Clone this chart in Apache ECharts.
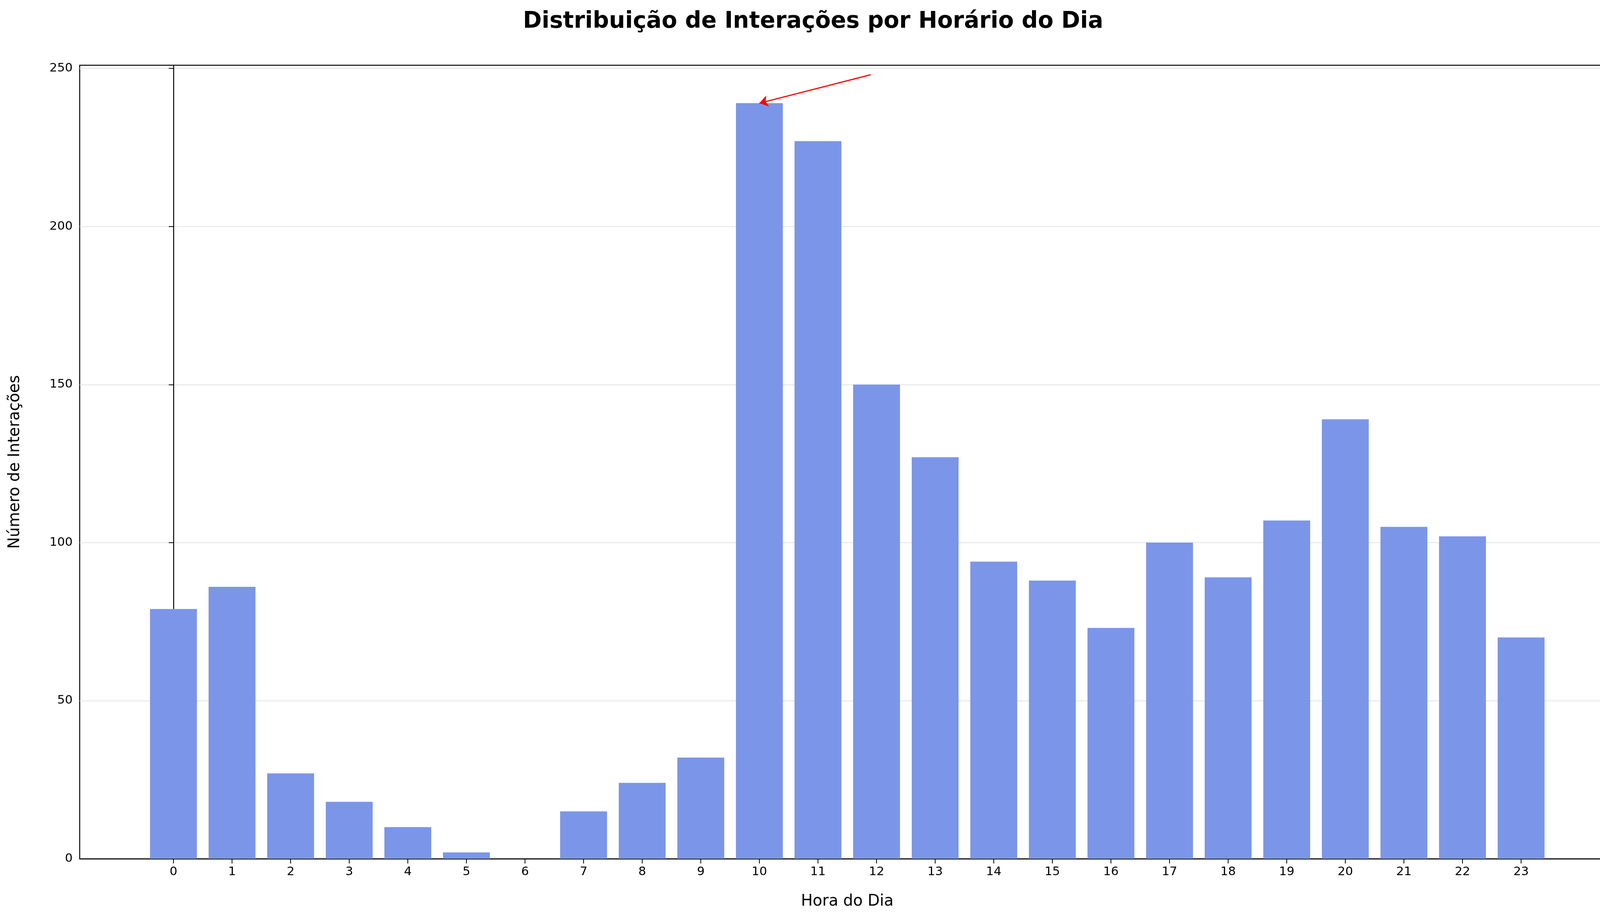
<!DOCTYPE html>
<html>
<head>
<meta charset="utf-8">
<script src="https://cdn.jsdelivr.net/npm/echarts@6/dist/echarts.min.js"></script>
<style>html,body{margin:0;padding:0;background:#fff}#c{width:4163px;height:2365px}</style>
</head>
<body>
<div id="c"></div>
<script>
    const hours = [0, 1, 2, 3, 4, 5, 6, 7, 8, 9, 10, 11, 12, 13, 14, 15, 16, 17, 18, 19, 20, 21, 22, 23];
    const counts = [79, 86, 27, 18, 10, 2, 0, 15, 24, 32, 239, 227, 150, 127, 94, 88, 73, 100, 89, 107, 139, 105, 102, 70];
    const yTicks = [0, 50, 100, 150, 200, 250];
    const peakIdx = counts.indexOf(Math.max(...counts));

    const chart = echarts.init(document.getElementById('c'));
    const font = 'DejaVu Sans';
    chart.setOption({
        backgroundColor: '#fff',
        animation: false,
        title: {
            text: 'Distribuição de Interações por Horário do Dia',
            left: 'center',
            top: 22,
            textStyle: { fontFamily: font, fontSize: 58, fontWeight: 'bold', color: '#000' },
        },
        grid: { left: 204, right: 29, top: 167, bottom: 167, show: true, borderColor: '#000', borderWidth: 2.5 },
        xAxis: {
            type: 'value',
            min: -1.6,
            max: 24.6,
            name: 'Hora do Dia',
            nameLocation: 'middle',
            nameGap: 90,
            nameTextStyle: { fontFamily: font, fontSize: 40, color: '#000' },
            splitLine: { show: false },
            axisLine: { show: true, onZero: false, lineStyle: { color: '#000', width: 2.5 } },
            axisTick: { show: true, length: 12, lineStyle: { color: '#000', width: 2 }, customValues: hours },
            axisLabel: { fontFamily: font, fontSize: 31, color: '#000', margin: 18, customValues: hours },
        },
        yAxis: {
            type: 'value',
            min: 0,
            max: 251,
            name: 'Número de Interações',
            nameLocation: 'middle',
            nameGap: 145,
            nameTextStyle: { fontFamily: font, fontSize: 40, color: '#000' },
            splitLine: { show: true, lineStyle: { color: '#e3e3e3', width: 2 } },
            axisLine: { show: true, lineStyle: { color: '#000', width: 2.5 } },
            axisTick: { show: true, length: 12, lineStyle: { color: '#000', width: 2 }, customValues: yTicks },
            axisLabel: { fontFamily: font, fontSize: 31, color: '#000', margin: 18, customValues: yTicks },
        },
        series: [{
            type: 'bar',
            data: hours.map((h, i) => [h, counts[i]]),
            barWidth: 120,
            clip: false,
            itemStyle: { color: '#7b96e8' },
            markLine: {
                silent: true,
                symbol: ['none', 'arrow'],
                symbolSize: 22,
                label: { show: false },
                lineStyle: { color: 'red', width: 3, type: 'solid' },
                data: [[{ coord: [11.9, 248] }, { coord: [hours[peakIdx], counts[peakIdx]] }]],
            },
            markPoint: {
                silent: true,
                symbol: 'circle',
                symbolSize: 0.1,
                data: [{ coord: [12.0, 251.8] }],
                label: {
                    show: true,
                    position: 'right',
                    distance: 0,
                    align: 'left',
                    fontFamily: font,
                    fontSize: 31,
                    lineHeight: 46,
                    color: 'red',
                    formatter: 'Pico: ' + hours[peakIdx] + 'h\n(' + counts[peakIdx] + ' interações)',
                },
            },
        }],
    });
</script>
</body>
</html>
